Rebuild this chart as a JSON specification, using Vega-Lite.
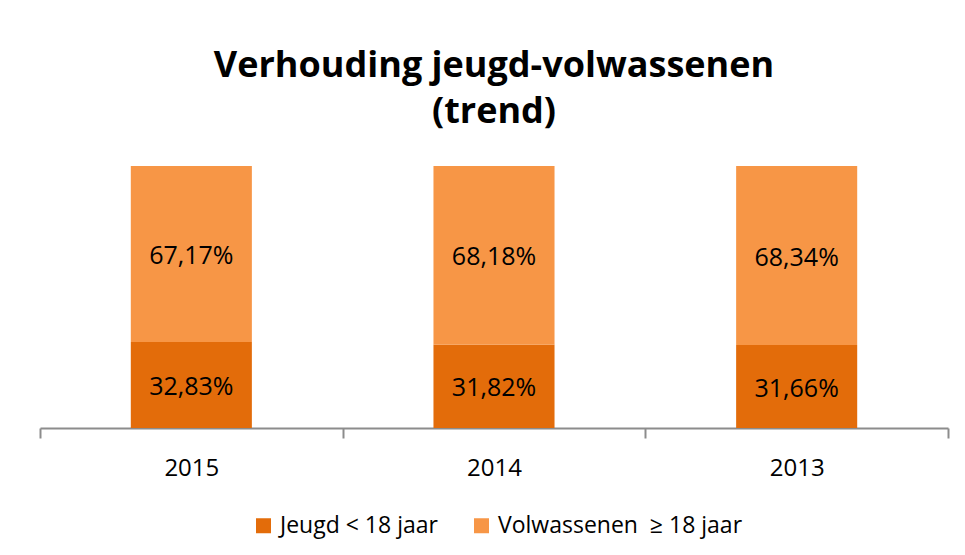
{
  "$schema": "https://vega.github.io/schema/vega-lite/v6.json",
  "width": 908,
  "height": 262,
  "autosize": {"type": "none"},
  "padding": {"left": 40, "top": 166, "right": 17, "bottom": 127},
  "background": "#ffffff",
  "config": {
    "font": "Open Sans",
    "view": {"stroke": null},
    "locale": {"number": {"decimal": ",", "thousands": ".", "grouping": [3], "currency": ["€", ""]}}
  },
  "title": {
    "text": ["Verhouding jeugd-volwassenen", "(trend)"],
    "fontSize": 36,
    "fontWeight": "bold",
    "font": "Open Sans",
    "color": "#000000",
    "anchor": "middle",
    "lineHeight": 46,
    "offset": 35
  },
  "data": {
    "values": [
      {"jaar": "2015", "groep": "Jeugd < 18 jaar", "aandeel": 0.3283},
      {"jaar": "2015", "groep": "Volwassenen\u00a0 ≥ 18 jaar", "aandeel": 0.6717},
      {"jaar": "2014", "groep": "Jeugd < 18 jaar", "aandeel": 0.3182},
      {"jaar": "2014", "groep": "Volwassenen\u00a0 ≥ 18 jaar", "aandeel": 0.6818},
      {"jaar": "2013", "groep": "Jeugd < 18 jaar", "aandeel": 0.3166},
      {"jaar": "2013", "groep": "Volwassenen\u00a0 ≥ 18 jaar", "aandeel": 0.6834}
    ]
  },
  "transform": [
    {"stack": "aandeel", "groupby": ["jaar"], "sort": [{"field": "groep", "order": "ascending"}], "as": ["v0", "v1"]},
    {"calculate": "(datum.v0 + datum.v1) / 2", "as": "mid"}
  ],
  "encoding": {
    "x": {
      "field": "jaar",
      "type": "nominal",
      "sort": ["2015", "2014", "2013"],
      "scale": {"paddingInner": 0, "paddingOuter": 0},
      "axis": {
        "title": null,
        "labelAngle": 0,
        "labelFontSize": 24,
        "labelColor": "#000000",
        "labelPadding": 18,
        "domainColor": "#8c8c8c",
        "domainWidth": 2,
        "tickColor": "#8c8c8c",
        "tickWidth": 2,
        "tickSize": 10,
        "tickBand": "extent"
      }
    }
  },
  "layer": [
    {
      "mark": {"type": "bar", "width": {"band": 0.4}},
      "encoding": {
        "y": {"field": "v0", "type": "quantitative", "scale": {"domain": [0, 1]}, "axis": null},
        "y2": {"field": "v1"},
        "color": {
          "field": "groep",
          "type": "nominal",
          "scale": {"domain": ["Jeugd < 18 jaar", "Volwassenen\u00a0 ≥ 18 jaar"], "range": ["#e36c0a", "#f79646"]},
          "legend": {
            "title": null,
            "orient": "none",
            "legendX": 212,
            "legendY": 348,
            "direction": "horizontal",
            "symbolType": "square",
            "symbolSize": 225,
            "symbolStrokeWidth": 0,
            "labelFontSize": 23,
            "labelColor": "#000000",
            "labelLimit": 0,
            "labelOffset": 5,
            "columnPadding": 32
          }
        }
      }
    },
    {
      "mark": {"type": "text", "fontSize": 25, "color": "#000000", "baseline": "middle", "dy": 2},
      "encoding": {
        "y": {"field": "mid", "type": "quantitative", "scale": {"domain": [0, 1]}},
        "text": {"field": "aandeel", "type": "quantitative", "format": ".2%"}
      }
    }
  ]
}
